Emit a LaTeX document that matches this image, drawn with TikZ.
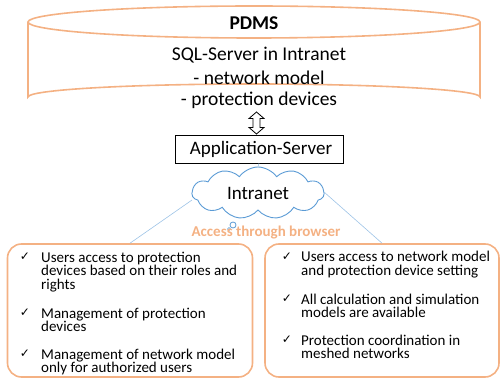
\documentclass[tikz,border=0pt]{standalone}
\usepackage{fontspec}
\setmainfont{Carlito}
\newfontfamily\symfont{DejaVu Sans}
\usetikzlibrary{shapes.symbols}
\definecolor{orng}{HTML}{F4B183}
\definecolor{cldblue}{HTML}{5B9BD5}
\definecolor{lnblue}{HTML}{9DC3E6}
\tikzset{
  orangeline/.style={draw=orng, line width=1.6pt},
  boxtext/.style={anchor=base west, font=\fontsize{15}{13.5}\selectfont, align=left, inner sep=0pt},
  chk/.style={font=\symfont\fontsize{12}{12}\selectfont, inner sep=0pt},
  dbtext/.style={font=\fontsize{19.5}{20}\selectfont, inner sep=0pt},
}
\begin{document}
\begin{tikzpicture}[x=1pt,y=-1pt]
\useasboundingbox (0,0) rectangle (503,379);
% cylinder
\draw[orangeline] (28,22) -- (28,97) arc[start angle=180,end angle=360,x radius=226,y radius=13] -- (480,22);
\draw[orangeline] (254,22) ellipse[x radius=226, y radius=16];
\node[dbtext, font=\bfseries\fontsize{19.5}{20}\selectfont] (pdms) at (254,23) {PDMS};
\node[dbtext] (sql) at (259,55) {SQL-Server in Intranet};
\node[dbtext] (nm) at (259,78) {- network model};
\node[dbtext] (pd) at (259,100) {- protection devices};
% application server
\node[draw=black, line width=0.8pt, minimum width=168pt, minimum height=28pt, inner sep=0pt, font=\fontsize{19}{20}\selectfont] (app) at (259,149) {\hspace{4pt}Application-Server};
% double arrow between database and application server
\coordinate (dtop) at (256.5,112);
\coordinate (dbot) at (256.5,134);
\draw[black, line width=0.8pt, fill=white]
  (dtop) -- ++(7.5,6.5) -- ++(-4,0) -- ++(0,9) -- ++(4,0) -- (dbot)
  -- ++(-7.5,-6.5) -- ++(4,0) -- ++(0,-9) -- ++(-4,0) -- cycle;
% cloud
\node[cloud, draw=cldblue, line width=0.9pt, cloud puffs=11, cloud puff arc=110, aspect=2.6, minimum width=132pt, minimum height=52pt, inner sep=0pt, font=\fontsize{19}{20}\selectfont] (cld) at (258,193) {Intranet};
\draw[lnblue, line width=0.6pt] (app.south) -- (cld.north);
\node[circle, draw=cldblue, line width=0.8pt, minimum size=6pt, inner sep=0pt, fill=white] (b1) at (233,225) {};
\node[circle, draw=cldblue, line width=0.6pt, minimum size=3pt, inner sep=0pt, fill=white] (b2) at (229,229) {};
% access label
\node[text=orng, font=\bfseries\fontsize{15}{16}\selectfont, inner sep=0pt] (acc) at (266,233) {Access through browser};
% boxes
\node[orangeline, rounded corners=14pt, minimum width=245pt, minimum height=133pt, inner sep=0pt] (lbox) at (130,310.5) {};
\node[orangeline, rounded corners=14pt, minimum width=234pt, minimum height=133pt, inner sep=0pt] (rbox) at (382,310.5) {};
\coordinate (cl) at (192,200);
\coordinate (cr) at (324,192);
\draw[lnblue, line width=0.6pt] (cl) -- (lbox.north);
\draw[lnblue, line width=0.6pt] (cr) -- (rbox.north);
% left items (anchor = baseline of last line)
\node[chk] (lc1) at (25,257) {✓};
\node[boxtext] (lt1) at (41,289) {Users access to protection\\devices based on their roles and\\rights};
\node[chk] (lc2) at (25,313) {✓};
\node[boxtext] (lt2) at (41,331.5) {Management of protection\\devices};
\node[chk] (lc3) at (25,354) {✓};
\node[boxtext] (lt3) at (41,372.5) {Management of network model\\only for authorized users};
% right items
\node[chk] (rc1) at (287,257) {✓};
\node[boxtext] (rt1) at (301,275.5) {Users access to network model\\and protection device setting};
\node[chk] (rc2) at (287,299) {✓};
\node[boxtext] (rt2) at (301,317.5) {All calculation and simulation\\models are available};
\node[chk] (rc3) at (287,340) {✓};
\node[boxtext] (rt3) at (301,358.5) {Protection coordination in\\meshed networks};
\end{tikzpicture}
\end{document}
